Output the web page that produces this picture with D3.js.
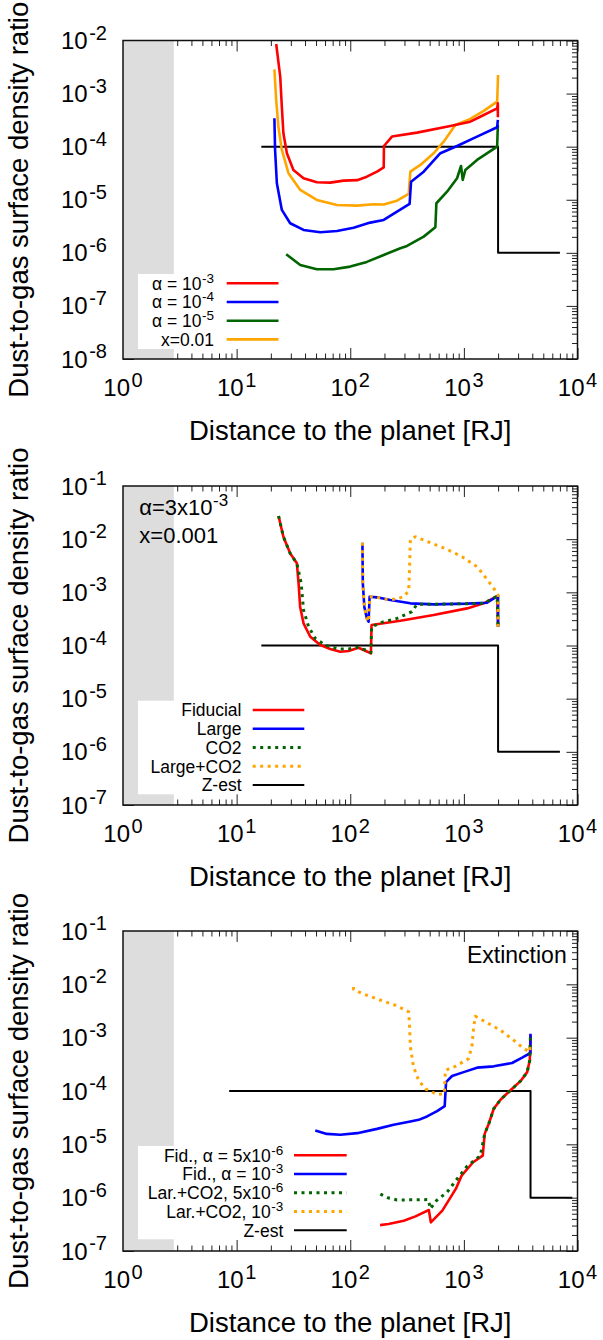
<!DOCTYPE html>
<html><head><meta charset="utf-8">
<script src="https://cdn.jsdelivr.net/npm/d3@7"></script>
<style>
body{margin:0;background:#fff}
svg{display:block}
text{font-family:"Liberation Sans",Arial,Helvetica,sans-serif;fill:#000}
</style>
</head><body>
<svg id="c" width="603" height="1340"></svg>
<script>
// ---------------- DATA ----------------
const xTickValues = [1, 10, 100, 1000, 10000];
const xTickLabels = ["10^{0}", "10^{1}", "10^{2}", "10^{3}", "10^{4}"];
const yTicks1 = [1e-2, 1e-3, 1e-4, 1e-5, 1e-6, 1e-7, 1e-8];
const yTickLabels1 = ["10^{-2}", "10^{-3}", "10^{-4}", "10^{-5}", "10^{-6}", "10^{-7}", "10^{-8}"];
const yTicks23 = [1e-1, 1e-2, 1e-3, 1e-4, 1e-5, 1e-6, 1e-7];
const yTickLabels23 = ["10^{-1}", "10^{-2}", "10^{-3}", "10^{-4}", "10^{-5}", "10^{-6}", "10^{-7}"];
const xTitle = "Distance to the planet [RJ]";
const yTitle = "Dust-to-gas surface density ratio";
const greyBand = [1, 2.8];

// Panel 1
const p1Alpha3 = [[22.3,8.59e-3],[24.2,2.09e-3],[25.0,5.66e-4],[25.8,1.79e-4],[27.7,7.52e-5],[31.6,3.64e-5],[38.8,2.54e-5],[50.8,2.13e-5],[66.7,2.10e-5],[87.3,2.29e-5],[115,2.34e-5],[140,2.72e-5],[172,3.39e-5],[197,4.07e-5],[198,1.03e-4],[233,1.55e-4],[387,1.84e-4],[760,2.45e-4],[1140,2.96e-4],[1496,3.95e-4],[1963,5.28e-4],[1991,6.56e-4],[1991,3.6e-4]];
const p1Alpha4 = [[21.5,3.43e-4],[21.8,8.67e-5],[22.6,2.05e-5],[25.0,6.43e-6],[29.6,3.61e-6],[38.8,2.70e-6],[54.5,2.44e-6],[76.4,2.58e-6],[107,2.98e-6],[150,3.71e-6],[197,4.16e-6],[258,5.97e-6],[333,8.34e-6],[343,2.19e-5],[443,3.38e-5],[621,7.52e-5],[871,1.03e-4],[1306,1.55e-4],[1963,2.32e-4],[1991,3.18e-4]];
const p1Alpha5 = [[27.3,9.4e-7],[36.3,5.92e-7],[50.8,4.91e-7],[71.3,4.91e-7],[100,5.5e-7],[140,6.75e-7],[197,9.12e-7],[276,1.22e-6],[316,1.35e-6],[443,2.02e-6],[561,3.03e-6],[573,8.59e-6],[711,1.42e-5],[871,2.54e-5],[944,4.33e-5],[977,2.36e-5],[1030,3.64e-5],[1306,5.62e-5],[1963,1.0e-4],[1991,2.56e-4]];
const p1X001 = [[21.5,2.86e-3],[22.3,7.57e-4],[23.3,2.38e-4],[25.0,8.67e-5],[28.6,3.16e-5],[36.3,1.53e-5],[50.8,9.9e-6],[76.4,7.98e-6],[115,7.76e-6],[161,8.22e-6],[197,8.13e-6],[258,9.62e-6],[327,1.29e-5],[338,3.38e-5],[414,4.53e-5],[542,7.52e-5],[664,1.24e-4],[841,2.56e-4],[1140,3.33e-4],[1496,4.71e-4],[1963,7.05e-4],[2000,2.24e-3]];
const p1Zest = [[16.5,1e-4],[2000,1e-4],[2000,1e-6],[7000,1e-6]];
const p1Names = ["α = 10^{-3}", "α = 10^{-4}", "α = 10^{-5}", "x=0.01"];

// Panel 2
const p2Fiducial = [[23.4,2.73e-2],[25.8,1.11e-2],[29.6,5.41e-3],[33.9,3.51e-3],[35.1,1.48e-3],[36.2,5.37e-4],[38.8,2.61e-4],[44.5,1.46e-4],[54.5,1.02e-4],[66.7,8.57e-5],[81.7,7.64e-5],[96.6,7.87e-5],[118,9.08e-5],[136,7.98e-5],[152,7.11e-5],[154,2.43e-4],[276,2.92e-4],[542,3.74e-4],[1067,4.99e-4],[1496,6.21e-4],[1963,8.51e-4],[2000,2.25e-4]];
const p2Large = [[128,8.59e-3],[129,1.48e-3],[133,5.37e-4],[140,3.24e-4],[145,2.8e-4],[148,8.28e-4],[172,8.05e-4],[225,7.16e-4],[338,6.21e-4],[542,5.94e-4],[1067,6.12e-4],[1600,6.38e-4],[2000,8.63e-4],[2000,2.25e-4]];
const p2CO2 = [[23.4,2.73e-2],[25.8,1.11e-2],[29.6,5.41e-3],[33.9,3.51e-3],[37.0,1.48e-3],[38.8,4.65e-4],[43.0,2.25e-4],[49.2,1.36e-4],[60.3,1.02e-4],[78.9,8.57e-5],[96.6,8.57e-5],[115,9.23e-5],[136,8.22e-5],[152,7.33e-5],[154,2.25e-4],[197,2.8e-4],[258,3.24e-4],[349,4.32e-4],[386,5.94e-4],[760,6.03e-4],[1496,6.21e-4],[1963,8.51e-4],[2000,2.25e-4]];
const p2LargeCO2 = [[128,8.59e-3],[129,1.48e-3],[133,5.37e-4],[140,3.24e-4],[145,2.8e-4],[148,8.28e-4],[172,8.05e-4],[210,7.38e-4],[249,7.38e-4],[295,8.28e-4],[327,1.07e-3],[333,3.03e-3],[338,9.93e-3],[374,1.11e-2],[507,8.59e-3],[711,6.44e-3],[964,4.69e-3],[1306,3.03e-3],[1600,1.75e-3],[1832,1.19e-3],[2000,8.91e-4],[2000,2.25e-4]];
const p2Zest = [[16.5,1e-4],[2000,1e-4],[2000,1e-6],[7000,1e-6]];
const p2Names = ["Fiducial", "Large", "CO2", "Large+CO2", "Z-est"];

// Panel 3
const p3FidA5e6 = [[183,3.06e-7],[217,3.2e-7],[296,3.7e-7],[375,4.46e-7],[492,5.86e-7],[512,3.44e-7],[646,5.7e-7],[849,1.46e-6],[955,2.59e-6],[1205,4.61e-6],[1466,6.15e-6],[1524,1.57e-5],[1656,2.43e-5],[1832,4.65e-5],[2099,6.85e-5],[2570,1.03e-4],[3148,1.53e-4],[3606,2.26e-4],[3802,3.76e-4],[3855,1.11e-3]];
const p3FidA1e3 = [[49.2,1.82e-5],[62.2,1.57e-5],[81.7,1.51e-5],[115,1.62e-5],[172,1.95e-5],[241,2.32e-5],[338,2.69e-5],[400,2.88e-5],[474,3.33e-5],[581,4.19e-5],[678,5.2e-5],[697,1.47e-4],[787,1.91e-4],[995,2.26e-4],[1306,2.74e-4],[1832,2.9e-4],[2655,3.35e-4],[3258,4.22e-4],[3855,5.16e-4],[3855,1.19e-3]];
const p3LarCO2A5e6 = [[184,1.17e-6],[217,9.86e-7],[258,9.06e-7],[361,9.12e-7],[487,9.2e-7],[507,6.2e-7],[573,8.8e-7],[710,1.26e-6],[871,2.24e-6],[1067,3.88e-6],[1396,6.15e-6],[1524,1.57e-5],[1656,2.43e-5],[1832,4.65e-5],[2099,6.85e-5],[2570,1.03e-4],[3148,1.53e-4],[3606,2.26e-4],[3802,3.76e-4],[3855,1.15e-3]];
const p3LarCO2A1e3 = [[107,8.9e-3],[107,8.0e-3],[127,6.73e-3],[177,5.2e-3],[249,4.06e-3],[327,3.05e-3],[333,1.59e-3],[338,6.68e-4],[361,2.81e-4],[400,1.58e-4],[458,1.1e-4],[581,8.63e-5],[673,8.89e-5],[687,2.44e-4],[841,2.9e-4],[1102,4.05e-4],[1180,7.19e-4],[1219,1.59e-3],[1262,2.52e-3],[1496,2.06e-3],[2099,1.38e-3],[2748,8.93e-4],[3365,6.24e-4],[3802,5.4e-4],[3855,7.9e-4]];
const p3Zest = [[8.6,1e-4],[3860,1e-4],[3860,1e-6],[9000,1e-6]];
const p3Names = ["Fid., α = 5x10^{-6}", "Fid., α = 10^{-3}", "Lar.+CO2, 5x10^{-6}", "Lar.+CO2, 10^{-3}", "Z-est"];

const p2Notes = ["α=3x10^{-3}", "x=0.001"];
const p3Note = "Extinction";

// ---------------- STYLES / LAYOUT ----------------
const RED = "#ff0000", BLUE = "#0000ff", GREEN = "#006400", ORANGE = "#ffa500", BLACK = "#000000";
const X0 = 123, X1 = 577.5;
const svg = d3.select("#c");
svg.append("rect").attr("width", 603).attr("height", 1340).attr("fill", "#fff");

function richText(sel, str, mainSize, supSize, supDy, supDx) {
  const parts = str.split(/\^\{([^}]*)\}/);
  parts.forEach((p, i) => {
    if (p === "") return;
    if (i % 2 === 1) {
      sel.append("tspan").attr("dy", supDy).attr("dx", supDx || 0).attr("font-size", supSize).text(p);
      if (i + 1 < parts.length && parts[i + 1] !== "") {
        sel.append("tspan").attr("dy", -supDy).attr("font-size", mainSize).text(parts[i + 1]);
        parts[i + 1] = "";
      }
    } else {
      sel.append("tspan").attr("font-size", mainSize).text(p);
    }
  });
  return sel;
}

let clipId = 0;
function drawPanel(cfg) {
  const x = d3.scaleLog().domain([1, 1e4]).range([X0, X1]);
  const y = d3.scaleLog().domain([cfg.ymin, cfg.ymax]).range([cfg.bottom, cfg.top]);
  const g = svg.append("g");
  const cid = "clip" + (clipId++);
  g.append("clipPath").attr("id", cid).append("rect")
    .attr("x", X0).attr("y", cfg.top).attr("width", X1 - X0).attr("height", cfg.bottom - cfg.top);

  const line = d3.line().x(d => x(d[0])).y(d => y(d[1]));
  const curves = g.append("g").attr("clip-path", `url(#${cid})`);
  cfg.series.forEach(s => {
    curves.append("path").datum(s.data).attr("d", line)
      .attr("fill", "none").attr("stroke", s.color)
      .attr("stroke-width", s.width)
      .attr("stroke-dasharray", s.dash ? "3 4.5" : null)
      .attr("stroke-linejoin", "round");
  });

  const isMajor = v => Math.abs(Math.log10(v) - Math.round(Math.log10(v))) < 1e-9;
  const xAll = x.ticks(), yAll = y.ticks();
  const xMinor = xAll.filter(v => !isMajor(v)), yMinor = yAll.filter(v => !isMajor(v));
  const xMajor = xAll.filter(isMajor), yMajor = yAll.filter(isMajor);
  const axes = g.append("g");
  const mk = (axisFn, scale, vals, len, tr) => {
    const a = axes.append("g").attr("transform", tr)
      .call(axisFn(scale).tickValues(vals).tickSizeInner(-len).tickSizeOuter(0).tickFormat(""));
    a.select(".domain").remove();
    a.selectAll("line").attr("stroke", "#222").attr("stroke-width", 1);
  };
  mk(d3.axisBottom, x, xMajor, 11, `translate(0,${cfg.bottom})`);
  mk(d3.axisBottom, x, xMinor, 5.5, `translate(0,${cfg.bottom})`);
  mk(d3.axisTop, x, xMajor, 11, `translate(0,${cfg.top})`);
  mk(d3.axisTop, x, xMinor, 5.5, `translate(0,${cfg.top})`);
  mk(d3.axisRight, y, yMajor, 11, `translate(${X1},0)`);
  mk(d3.axisRight, y, yMinor, 5.5, `translate(${X1},0)`);
  mk(d3.axisLeft, y, yMajor, 11, `translate(${X0},0)`);
  mk(d3.axisLeft, y, yMinor, 5.5, `translate(${X0},0)`);

  g.append("rect").attr("x", x(greyBand[0])).attr("y", cfg.top)
    .attr("width", x(greyBand[1]) - x(greyBand[0])).attr("height", cfg.bottom - cfg.top)
    .attr("fill", "#dddddd");

  const L = cfg.legend;
  g.append("rect").attr("x", L.boxLeft).attr("y", L.boxTop)
    .attr("width", L.boxRight - L.boxLeft).attr("height", L.boxBottom - L.boxTop).attr("fill", "#fff");
  L.entries.forEach((e, i) => {
    const ry = L.row0 + i * L.step;
    richText(g.append("text").attr("x", L.textRight).attr("y", ry + 6.3).attr("text-anchor", "end"),
      e.name, 17.5, 13.5, -7, 0.5);
    g.append("line").attr("x1", L.lx1).attr("x2", L.lx2).attr("y1", ry).attr("y2", ry)
      .attr("stroke", e.color).attr("stroke-width", e.width)
      .attr("stroke-dasharray", e.dash ? "3 4.5" : null);
  });

  g.append("rect").attr("x", X0).attr("y", cfg.top).attr("width", X1 - X0).attr("height", cfg.bottom - cfg.top)
    .attr("fill", "none").attr("stroke", "#111").attr("stroke-width", 1.5);

  xTickValues.forEach((v, i) => {
    richText(g.append("text").attr("x", x(v)).attr("y", cfg.bottom + 37).attr("text-anchor", "middle"),
      xTickLabels[i], 24, 20, -9.5, 1.5);
  });
  cfg.yTicks.forEach((v, i) => {
    richText(g.append("text").attr("x", 107).attr("y", y(v) + 8.5).attr("text-anchor", "end"),
      cfg.yTickLabels[i], 24, 20, -9.5, 1.5);
  });
  g.append("text").attr("x", (X0 + X1) / 2).attr("y", cfg.bottom + 81).attr("text-anchor", "middle")
    .attr("font-size", 27.5).text(xTitle);
  g.append("text").attr("transform", `translate(28,${(cfg.top + cfg.bottom) / 2}) rotate(-90)`)
    .attr("text-anchor", "middle").attr("font-size", 27.5).text(yTitle);

  if (cfg.after) cfg.after(g, x, y);
}

const solid = (data, color, w) => ({data, color, width: w || 2.6, dash: false});
const dotted = (data, color) => ({data, color, width: 3, dash: true});

drawPanel({
  top: 40.5, bottom: 359, ymin: 1e-8, ymax: 1e-2, yTicks: yTicks1, yTickLabels: yTickLabels1,
  series: [solid(p1Zest, BLACK, 2), solid(p1X001, ORANGE), solid(p1Alpha5, GREEN), solid(p1Alpha4, BLUE), solid(p1Alpha3, RED)],
  legend: {boxLeft: 138, boxTop: 274, boxBottom: 349, boxRight: 285, textRight: 214, lx1: 226.7, lx2: 278.5, row0: 283.3, step: 18.7,
    entries: [
      {name: p1Names[0], color: RED, width: 2.6}, {name: p1Names[1], color: BLUE, width: 2.6},
      {name: p1Names[2], color: GREEN, width: 2.6}, {name: p1Names[3], color: ORANGE, width: 2.6}]}
});

drawPanel({
  top: 486, bottom: 805, ymin: 1e-7, ymax: 1e-1, yTicks: yTicks23, yTickLabels: yTickLabels23,
  series: [solid(p2Zest, BLACK, 2), solid(p2Fiducial, RED), solid(p2Large, BLUE), dotted(p2CO2, GREEN), dotted(p2LargeCO2, ORANGE)],
  legend: {boxLeft: 138, boxTop: 700.7, boxBottom: 794.3, boxRight: 310, textRight: 241.5, lx1: 252.7, lx2: 304.3, row0: 710, step: 18.75,
    entries: [
      {name: p2Names[0], color: RED, width: 2.6}, {name: p2Names[1], color: BLUE, width: 2.6},
      {name: p2Names[2], color: GREEN, width: 3, dash: true}, {name: p2Names[3], color: ORANGE, width: 3, dash: true},
      {name: p2Names[4], color: BLACK, width: 2}]},
  after: (g) => {
    richText(g.append("text").attr("x", 139.3).attr("y", 515), p2Notes[0], 22, 17, -9, 0.5);
    richText(g.append("text").attr("x", 139.3).attr("y", 542.7), p2Notes[1], 22, 17, -9, 0.5);
  }
});

drawPanel({
  top: 931, bottom: 1251, ymin: 1e-7, ymax: 1e-1, yTicks: yTicks23, yTickLabels: yTickLabels23,
  series: [solid(p3Zest, BLACK, 2), solid(p3FidA5e6, RED), solid(p3FidA1e3, BLUE), dotted(p3LarCO2A5e6, GREEN), dotted(p3LarCO2A1e3, ORANGE)],
  legend: {boxLeft: 138, boxTop: 1146, boxBottom: 1239.3, boxRight: 352, textRight: 283.3, lx1: 294, lx2: 346.7, row0: 1155.3, step: 18.75,
    entries: [
      {name: p3Names[0], color: RED, width: 2.6}, {name: p3Names[1], color: BLUE, width: 2.6},
      {name: p3Names[2], color: GREEN, width: 3, dash: true}, {name: p3Names[3], color: ORANGE, width: 3, dash: true},
      {name: p3Names[4], color: BLACK, width: 2}]},
  after: (g) => {
    g.append("text").attr("x", 566.7).attr("y", 963.3).attr("text-anchor", "end").attr("font-size", 23).text(p3Note);
  }
});
</script>
</body></html>
